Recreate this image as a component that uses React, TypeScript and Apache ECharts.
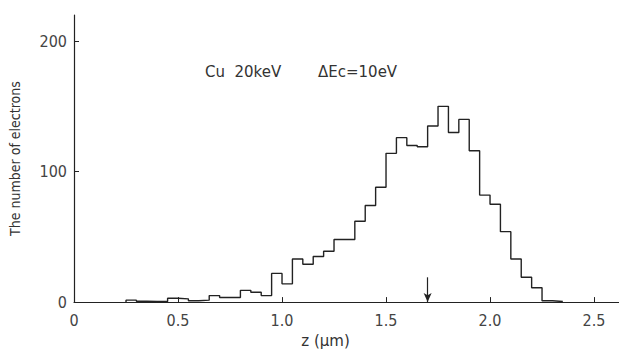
import React, { useEffect, useRef } from "react";
import * as echarts from "echarts";

// Histogram bins: left edges (μm), bin width 0.05
const binLeftEdges = [
  0.25, 0.3, 0.35, 0.4, 0.45, 0.5, 0.55, 0.6, 0.65, 0.7, 0.75, 0.8, 0.85, 0.9,
  0.95, 1.0, 1.05, 1.1, 1.15, 1.2, 1.25, 1.3, 1.35, 1.4, 1.45, 1.5, 1.55, 1.6,
  1.65, 1.7, 1.75, 1.8, 1.85, 1.9, 1.95, 2.0, 2.05, 2.1, 2.15, 2.2, 2.25, 2.3,
];
const electronCounts = [
  1.5, 0.7, 0.5, 0.5, 3, 2.5, 1, 1.5, 5, 3.5, 3.5, 9, 7.5, 5, 22, 14, 33, 29,
  35, 39, 48, 48, 62, 74, 88, 114, 126, 120, 119, 135, 150, 130, 140, 116, 82,
  75, 54, 33, 19, 11, 1, 0.5,
];
const binWidth = 0.05;
const xTicks = [0, 0.5, 1.0, 1.5, 2.0, 2.5];
const yTicks = [0, 100, 200];
const arrowZ = 1.7;
const arrowTop = 19;

const FONT = "DejaVu Sans";
const FONT_C = "'DejaVu Sans Condensed', 'DejaVu Sans'";

export default function App() {
  const ref = useRef<HTMLDivElement>(null);
  useEffect(() => {
    if (!ref.current) return;
    const chart = echarts.init(ref.current, undefined, { renderer: "svg" });
    const stepData: number[][] = [[binLeftEdges[0], 0]];
    binLeftEdges.forEach((x, i) => stepData.push([x, electronCounts[i]]));
    stepData.push([binLeftEdges[binLeftEdges.length - 1] + binWidth, 0]);

    chart.setOption({
      animation: false,
      backgroundColor: "#ffffff",
      grid: { left: 73.5, right: 0, top: 15, bottom: 48, containLabel: false },
      xAxis: {
        type: "value",
        min: 0,
        max: 2.62,
        name: "z (μm)",
        nameLocation: "middle",
        nameGap: 30,
        nameTextStyle: { fontFamily: FONT, fontSize: 15, color: "#333", padding: [0, 42, 0, 0] },
        axisLine: { show: true, lineStyle: { color: "#222", width: 1.2 } },
        axisTick: { show: true, inside: true, length: 5, customValues: xTicks, lineStyle: { color: "#222" } },
        axisLabel: {
          customValues: xTicks,
          formatter: (v: number) => (v === 0 ? "0" : v.toFixed(1)),
          fontFamily: FONT_C,
          fontSize: 16,
          color: "#444",
          margin: 10,
        },
        splitLine: { show: false },
      },
      yAxis: {
        type: "value",
        min: 0,
        max: 220,
        name: "The number of electrons",
        nameLocation: "middle",
        nameGap: 52,
        nameRotate: 90,
        nameTextStyle: { fontFamily: FONT_C, fontSize: 14, color: "#333" },
        axisLine: { show: true, lineStyle: { color: "#222", width: 1.2 } },
        axisTick: { show: true, inside: true, length: 5, customValues: yTicks, lineStyle: { color: "#222" } },
        axisLabel: {
          customValues: yTicks,
          fontFamily: FONT_C,
          fontSize: 16,
          color: "#444",
          margin: 7,
        },
        splitLine: { show: false },
      },
      series: [
        {
          type: "line",
          step: "end",
          data: stepData,
          symbol: "none",
          lineStyle: { color: "#222", width: 1.4 },
          markLine: {
            silent: true,
            symbol: ["none", "arrow"],
            symbolSize: [6, 9],
            label: { show: false },
            lineStyle: { color: "#222", width: 1.2, type: "solid" },
            data: [[{ coord: [arrowZ, arrowTop] }, { coord: [arrowZ, 0] }]],
          },
        },
      ],
      graphic: [
        {
          type: "text",
          left: 205,
          top: 64,
          style: { text: "Cu  20keV", fontFamily: FONT, fontSize: 15, fill: "#333" },
        },
        {
          type: "text",
          left: 318,
          top: 64,
          style: { text: "ΔEc=10eV", fontFamily: FONT, fontSize: 15, fill: "#333" },
        },
      ],
    });
    return () => chart.dispose();
  }, []);
  return <div ref={ref} style={{ width: 619, height: 353, position: "absolute", left: 0, top: 0 }} />;
}
